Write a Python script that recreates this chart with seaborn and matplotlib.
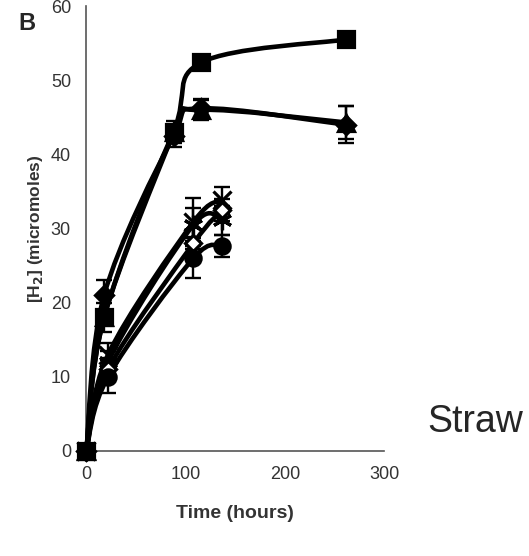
import matplotlib
matplotlib.use("Agg")
from matplotlib import pyplot as plt
from matplotlib.path import Path
from matplotlib.patches import PathPatch
import seaborn as sns
import pandas as pd

# upper group, sampled at t_long
t_long = [0, 18, 88, 116, 262]
square = [0, 18, 43, 52.4, 55.5]
triangle = [0, 18, 43, 46, 44.3]
triangle_err = [0, 2, 1.5, 1.3, 2.2]
diamond = [0, 21, 42.5, 46.2, 44]
diamond_err = [0, 2, 1.5, 1.3, 2.5]

# lower group, sampled at t_short
t_short = [0, 22, 108, 137]
cross = [0, 13, 30.9, 33.8]
cross_err = [0, 1.5, 3.2, 1.8]
aster = [0, 12, 30.5, 31.1]
aster_err = [0, 1.5, 2.2, 2.0]
open_dia = [0, 11, 28, 32.5]
open_dia_err = [0, 1.5, 0.8, 1.5]
circle = [0, 10, 26, 27.6]
circle_err = [0, 2.2, 2.7, 1.5]

series = {
    "square": (t_long, square, None, "s", 12),
    "triangle": (t_long, triangle, triangle_err, "^", 12),
    "diamond": (t_long, diamond, diamond_err, "D", 9),
    "cross": (t_short, cross, cross_err, "x", 13),
    "aster": (t_short, aster, aster_err, (6, 2, 0), 14),
    "open_dia": (t_short, open_dia, open_dia_err, "D", 8),
    "circle": (t_short, circle, circle_err, "o", 11),
}


def smooth_path(xs, ys):
    # Excel-style smoothed line: Catmull-Rom segments as cubic Beziers
    pts = list(zip(xs, ys))
    n = len(pts)
    verts = [pts[0]]
    codes = [Path.MOVETO]
    for i in range(n - 1):
        p0 = pts[max(i - 1, 0)]
        p1 = pts[i]
        p2 = pts[i + 1]
        p3 = pts[min(i + 2, n - 1)]
        c1 = (p1[0] + (p2[0] - p0[0]) / 6, p1[1] + (p2[1] - p0[1]) / 6)
        c2 = (p2[0] - (p3[0] - p1[0]) / 6, p2[1] - (p3[1] - p1[1]) / 6)
        verts += [c1, c2, p2]
        codes += [Path.CURVE4] * 3
    return Path(verts, codes)


sns.set_style("white")
plt.rcParams["font.family"] = ["Liberation Sans", "DejaVu Sans"]

fig = plt.figure(figsize=(5.29, 5.56), dpi=100)
ax = fig.add_axes([0.163, 0.189, 0.563, 0.80])

for name, (ts, ys, errs, mk, ms) in series.items():
    if errs is not None:
        ax.errorbar(ts, ys, yerr=errs, fmt="none", ecolor="black",
                    elinewidth=1.7, capsize=6, capthick=1.7, zorder=2)
    ax.add_patch(PathPatch(smooth_path(ts, ys), facecolor="none",
                           edgecolor="black", linewidth=3.3, zorder=3,
                           clip_on=False))
    df = pd.DataFrame({"time": ts, "h2": ys})
    face = "white" if name == "open_dia" else "black"
    sns.lineplot(
        data=df, x="time", y="h2", color="black", marker=mk, linestyle="",
        markersize=ms, markeredgecolor="black",
        markerfacecolor=face, markeredgewidth=2.3, ax=ax, zorder=4,
    )
for line in ax.lines:
    line.set_clip_on(False)

ax.set_xlim(0, 300)
ax.set_ylim(0, 60)
ax.set_xticks([0, 100, 200, 300])
ax.set_yticks([0, 10, 20, 30, 40, 50, 60])
for s in ["top", "right"]:
    ax.spines[s].set_visible(False)
for s in ["left", "bottom"]:
    ax.spines[s].set_color("#555555")
    ax.spines[s].set_linewidth(1.2)
ax.tick_params(axis="both", direction="out", length=5, width=1.2,
               color="#555555", labelsize=13, labelcolor="#333333", pad=6)
ax.set_xlabel("Time (hours)", fontsize=14, fontweight="bold",
              color="#333333", labelpad=16)
ax.set_ylabel("[H$_\\mathbf{2}$] (micromoles)", fontsize=12.5,
              fontweight="bold", color="#333333", labelpad=4)

fig.text(0.034, 0.958, "B", fontsize=17, fontweight="bold", ha="left", va="center")
fig.text(0.807, 0.241, "Straw", fontsize=27, ha="left", va="center")

fig.savefig("out.png", dpi=100)
